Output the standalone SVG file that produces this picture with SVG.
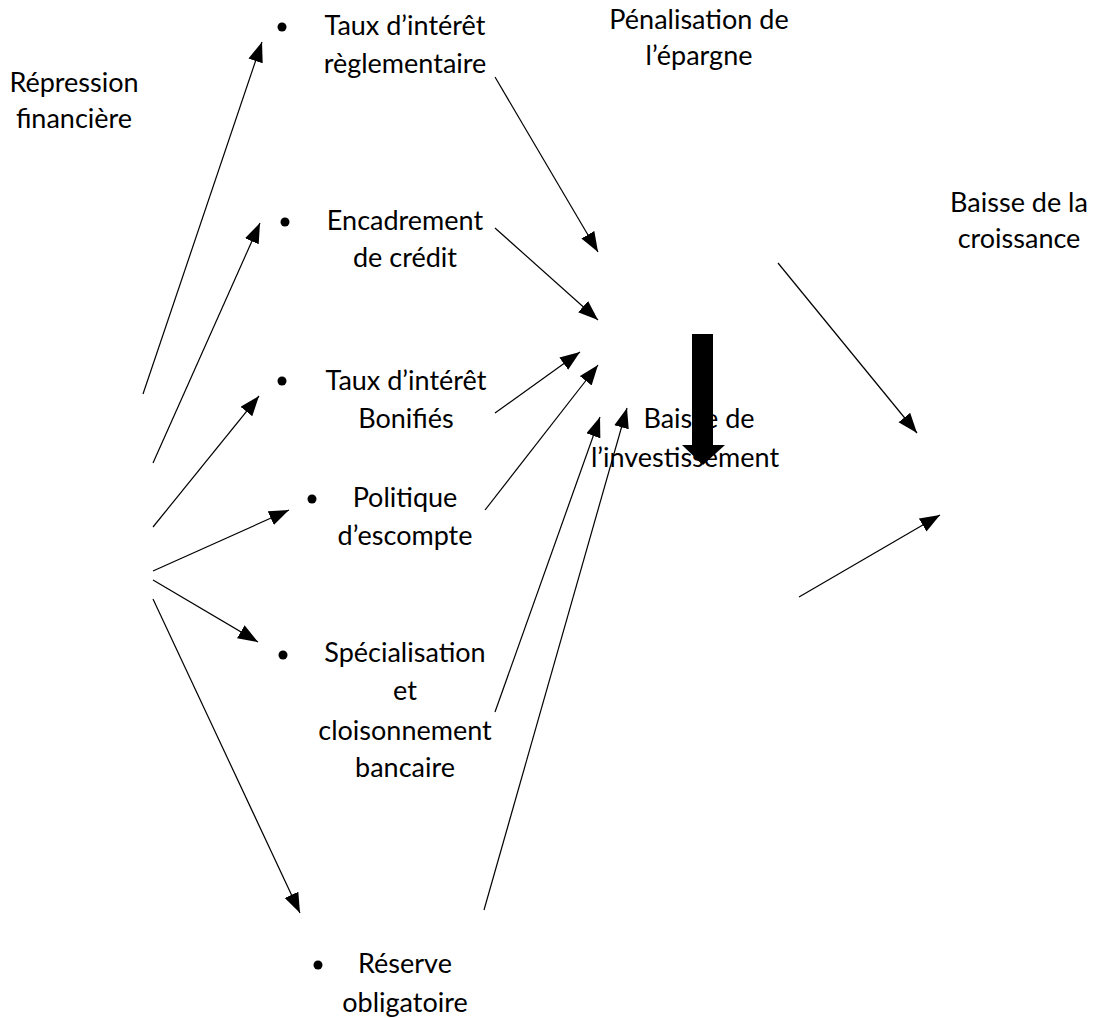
<svg xmlns="http://www.w3.org/2000/svg" width="1094" height="1018" viewBox="0 0 1094 1018">
<defs>
<style>
text{font-family:Lato,"Open Sans","Liberation Sans",sans-serif;font-size:27px;fill:#000;text-anchor:middle}
.c{stroke:#000;stroke-width:1.2;fill:none;marker-end:url(#ah)}
.b{fill:#000}
</style>
<marker id="ah" markerUnits="userSpaceOnUse" markerWidth="22" markerHeight="16" refX="20" refY="7.5" orient="auto">
<path d="M0,0 L20,7.5 L0,15 z" fill="#000"/>
</marker>
</defs>
<rect width="1094" height="1018" fill="#fff"/>
<g id="repression"><text x="74" y="92">Répression</text><text x="74" y="128">financière</text></g>
<g id="taux-reglementaire"><circle class="b" cx="282" cy="27" r="4.5"/><text x="405" y="35">Taux d’intérêt</text><text x="405" y="73">règlementaire</text></g>
<g id="encadrement"><circle class="b" cx="285" cy="222" r="4.5"/><text x="405" y="230">Encadrement</text><text x="405" y="267">de crédit</text></g>
<g id="taux-bonifies"><circle class="b" cx="282" cy="381" r="4.5"/><text x="406" y="390">Taux d’intérêt</text><text x="406" y="428">Bonifiés</text></g>
<g id="politique"><circle class="b" cx="312" cy="499" r="4.5"/><text x="405" y="507">Politique</text><text x="405" y="545">d’escompte</text></g>
<g id="specialisation"><circle class="b" cx="283" cy="655" r="4.5"/><text x="405" y="662">Spécialisation</text><text x="405" y="700">et</text><text x="405" y="740">cloisonnement</text><text x="405" y="777">bancaire</text></g>
<g id="reserve"><circle class="b" cx="318" cy="965" r="4.5"/><text x="405" y="973">Réserve</text><text x="405" y="1012">obligatoire</text></g>
<g id="penalisation"><text x="699" y="29">Pénalisation de</text><text x="699" y="65">l’épargne</text></g>
<g id="baisse-investissement"><text x="699" y="428">Baisse de</text><text x="685" y="467">l’investissement</text>
<rect x="692" y="334" width="21" height="112" fill="#000"/><polygon points="682,445 725,445 703,465" fill="#000"/></g>
<g id="baisse-croissance"><text x="1019" y="212">Baisse de la</text><text x="1019" y="248">croissance</text></g>
<g id="connectors">
<line class="c" x1="143" y1="394" x2="262" y2="42"/>
<line class="c" x1="153" y1="463" x2="260" y2="223"/>
<line class="c" x1="153" y1="527" x2="259" y2="396"/>
<line class="c" x1="153" y1="571" x2="289" y2="510"/>
<line class="c" x1="153" y1="580" x2="258" y2="642"/>
<line class="c" x1="153" y1="599" x2="300" y2="913"/>
<line class="c" x1="495" y1="77" x2="598" y2="252"/>
<line class="c" x1="495" y1="228" x2="598" y2="320"/>
<line class="c" x1="495" y1="413" x2="580" y2="352"/>
<line class="c" x1="485" y1="510" x2="598" y2="365"/>
<line class="c" x1="495" y1="712" x2="600" y2="417"/>
<line class="c" x1="484" y1="910" x2="627" y2="408"/>
<line class="c" x1="778" y1="263" x2="917" y2="433"/>
<line class="c" x1="799" y1="597" x2="940" y2="515"/>
</g>
</svg>
